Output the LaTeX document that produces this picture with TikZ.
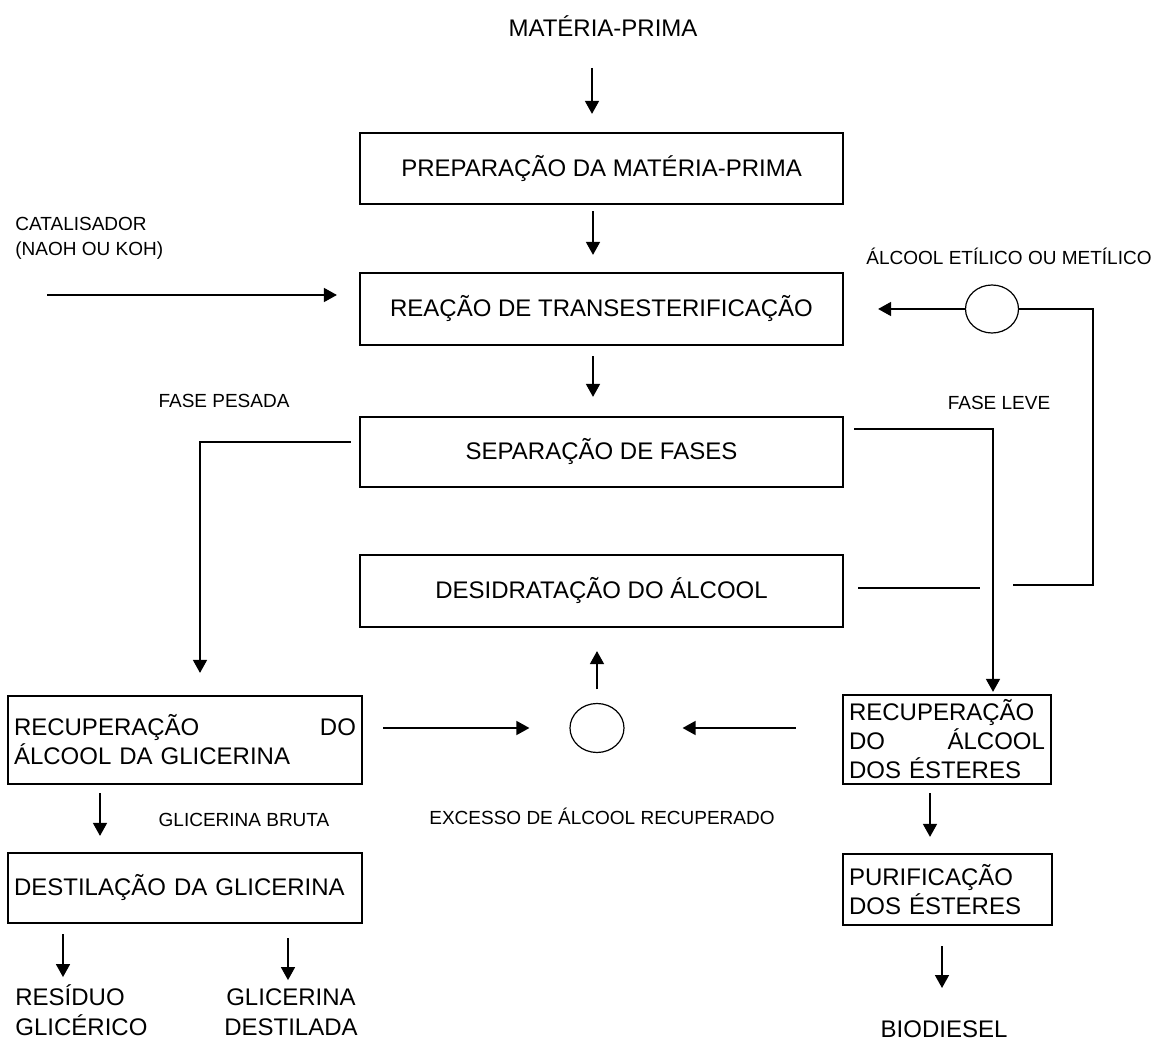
\documentclass[tikz,border=0pt]{standalone}
\usepackage{fontspec}
\setmainfont{Liberation Sans}
\usetikzlibrary{arrows.meta,shapes.geometric}
\begin{document}
\begin{tikzpicture}[x=0.5pt,y=-0.5pt,
  box/.style={draw, line width=1.1pt, inner xsep=3pt, inner ysep=0pt, font=\fontsize{12}{14.5}\selectfont},
  lbl/.style={inner sep=0pt, font=\fontsize{12}{15}\selectfont, text height=8.6pt, text depth=0pt},
  mlbl/.style={inner sep=0pt, font=\fontsize{12}{15}\selectfont},
  sml/.style={inner sep=0pt, font=\fontsize{9.5}{12.5}\selectfont, text height=6.8pt, text depth=0pt},
  msml/.style={inner sep=0pt, font=\fontsize{9.5}{12.5}\selectfont},
  arr/.style={line width=0.8pt, -{Triangle[length=6.5pt,width=7pt]}},
  ln/.style={line width=0.8pt},
  valve/.style={draw, ellipse, line width=0.6pt, inner sep=0pt}]
\useasboundingbox (0,0) rectangle (1152,1042);

% boxes
\node[box, minimum width=241.5pt, minimum height=35.5pt] (b1) at (601.5,168.5) {PREPARAÇÃO DA MATÉRIA-PRIMA};
\node[box, minimum width=241.5pt, minimum height=36pt] (b2) at (601.5,309) {REAÇÃO DE TRANSESTERIFICAÇÃO};
\node[box, minimum width=241.5pt, minimum height=35pt] (b3) at (601.5,452) {SEPARAÇÃO DE FASES};
\node[box, minimum width=241.5pt, minimum height=36pt] (b4) at (601.5,591) {DESIDRATAÇÃO DO ÁLCOOL};
\node[box, text width=171pt, align=left, minimum height=44pt] (b5) at (185,740)
  {\leavevmode\hbox to 171pt{RECUPERAÇÃO\hfill DO}\\ÁLCOOL DA GLICERINA};
\node[box, text width=171pt, align=left, minimum height=35pt] (b6) at (185,888) {DESTILAÇÃO DA GLICERINA};
\node[box, text width=98pt, align=left, minimum height=44.5pt] (b7) at (947,739.5)
  {RECUPERAÇÃO\\\leavevmode\hbox to 98pt{DO\hfill ÁLCOOL}\\DOS ÉSTERES};
\node[box, text width=98.5pt, align=left, minimum height=35.5pt] (b8) at (947.5,889.5) {PURIFICAÇÃO\\DOS ÉSTERES};

% labels
\node[lbl] (mp) at (603,28) {MATÉRIA-PRIMA};
\node[msml, align=left, anchor=west] (cat) at (15,238.5) {CATALISADOR\\(NAOH OU KOH)};
\node[sml] (alc) at (1009,258) {ÁLCOOL ETÍLICO OU METÍLICO};
\node[sml] (fl) at (999,403) {FASE LEVE};
\node[sml] (fp) at (224,401) {FASE PESADA};
\node[sml] (ex) at (602,818) {EXCESSO DE ÁLCOOL RECUPERADO};
\node[sml] (gb) at (244,820) {GLICERINA BRUTA};
\node[mlbl, align=left, anchor=west] (res) at (15,1010) {RESÍDUO\\GLICÉRICO};
\node[mlbl, align=center] (gd) at (291,1012) {GLICERINA\\DESTILADA};
\node[lbl] (bio) at (944,1029) {BIODIESEL};

% valves
\node[valve, minimum width=26.5pt, minimum height=24pt] (v1) at (992,309) {};
\node[valve, minimum width=27pt, minimum height=24.5pt] (v2) at (597,728) {};

% coordinates
\coordinate (k1) at (592,0);
\coordinate (k2) at (593,0);
\coordinate (k5) at (100,0);
\coordinate (k61) at (63,0);
\coordinate (k62) at (288,0);
\coordinate (k7) at (930,0);
\coordinate (k8) at (942,0);
\coordinate (catin) at (47,295);
\coordinate (r1) at (1093,309);
\coordinate (r2) at (1013,585);
\coordinate (lv) at (993,429);
\coordinate (d4) at (980,588);
\coordinate (ps) at (200,442);

% main column
\draw[arr, shorten <=15.5pt, shorten >=9pt] (mp.south -| k1) -- (b1.north -| k1);
\draw[arr, shorten <=3pt, shorten >=8.5pt] (b1.south -| k2) -- (b2.north -| k2);
\draw[arr, shorten <=5pt, shorten >=9.5pt] (b2.south -| k2) -- (b3.north -| k2);

% catalyst
\draw[arr, shorten >=11pt] (catin) -- (catin -| b2.west);

% alcohol recycle
\draw[arr, shorten >=17pt] (v1.west) -- (v1.west -| b2.east);
\draw[ln] (v1.east) -- (r1) -- (r1 |- r2) -- (r2);

% light phase
\draw[arr, shorten <=5pt, shorten >=1pt] (b3.east |- lv) -- (lv) -- (lv |- b7.north);
\draw[ln, shorten <=7pt] (b4.east |- d4) -- (d4);

% heavy phase
\draw[arr, shorten <=4pt, shorten >=11pt] (b3.west |- ps) -- (ps) -- (ps |- b5.north);

% excess alcohol
\draw[arr, shorten <=6.75pt, shorten >=11.5pt] (v2.north) -- (v2.north |- b4.south);
\draw[arr, shorten <=10pt, shorten >=20pt] (b5.east |- v2) -- (v2.west);
\draw[arr, shorten <=23pt, shorten >=29pt] (b7.west |- v2) -- (v2.east);

% glycerin branch
\draw[arr, shorten <=4pt, shorten >=8pt] (b5.south -| k5) -- (b6.north -| k5);
\draw[arr, shorten <=5pt, shorten >=3.5pt] (b6.south -| k61) -- (res.north -| k61);
\draw[arr, shorten <=7pt, shorten >=4pt] (b6.south -| k62) -- (gd.north -| k62);

% ester branch
\draw[arr, shorten <=4pt, shorten >=8pt] (b7.south -| k7) -- (b8.north -| k7);
\draw[arr, shorten <=10pt, shorten >=16pt] (b8.south -| k8) -- (bio.north -| k8);
\end{tikzpicture}
\end{document}
